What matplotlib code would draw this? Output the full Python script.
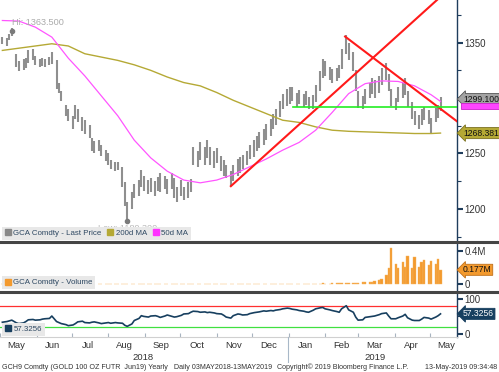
import pandas as pd
import matplotlib.pyplot as plt
import matplotlib.dates as mdates
from matplotlib.lines import Line2D
from matplotlib.patches import Rectangle

# ---- values ----
bar_dates = pd.bdate_range('2018-05-03', periods=134, freq='2B')
price_low = [
    1349, 1347, 1352, 1356, 1328, 1324, 1325, 1327, 1332, 1334,
    1330, 1328, 1329, 1328, 1330, 1331, 1308, 1305, 1297, 1284,
    1279, 1272, 1281, 1278, 1270, 1268, 1264, 1252, 1250, 1252,
    1248, 1243, 1240, 1236, 1234, 1235, 1220, 1203, 1189.3, 1200,
    1210, 1212, 1220, 1216, 1213, 1215, 1212, 1216, 1215, 1218,
    1213, 1218, 1210, 1206, 1212, 1208, 1210, 1215, 1240, 1238,
    1244, 1240, 1246, 1240, 1237, 1241, 1234, 1230, 1228, 1221,
    1225, 1230, 1232, 1236, 1240, 1245, 1247, 1252, 1255, 1258,
    1262, 1266, 1272, 1276, 1283, 1290, 1293, 1295, 1297, 1292,
    1295, 1292, 1294, 1290, 1290, 1296, 1306, 1318, 1320, 1316,
    1314, 1315, 1318, 1326, 1340, 1334, 1324, 1306, 1291, 1290,
    1295, 1300, 1304, 1300, 1305, 1312, 1316, 1306, 1293, 1289,
    1296, 1300, 1303, 1292, 1281, 1276, 1272, 1276, 1280, 1277,
    1268, 1278, 1282, 1288]
price_high = [
    1355, 1354, 1358, 1363.5, 1340, 1333, 1335, 1336, 1343, 1344,
    1338, 1335, 1336, 1335, 1337, 1342, 1334, 1314, 1306, 1294,
    1290, 1284, 1294, 1290, 1283, 1280, 1276, 1264, 1261, 1262,
    1258, 1253, 1250, 1244, 1242, 1242, 1238, 1224, 1206, 1215,
    1222, 1226, 1235, 1230, 1226, 1228, 1225, 1229, 1232, 1230,
    1227, 1232, 1228, 1220, 1226, 1220, 1224, 1227, 1256, 1252,
    1260, 1256, 1262, 1256, 1252, 1255, 1248, 1244, 1240, 1234,
    1240, 1245, 1247, 1249, 1252, 1258, 1262, 1266, 1269, 1272,
    1277, 1281, 1286, 1290, 1297, 1304, 1308, 1310, 1310, 1305,
    1307, 1304, 1306, 1301, 1303, 1312, 1324, 1335, 1333, 1328,
    1326, 1327, 1330, 1344, 1357, 1350, 1342, 1325, 1306, 1302,
    1308, 1314, 1318, 1316, 1320, 1327, 1332, 1322, 1308, 1300,
    1310, 1314, 1318, 1306, 1296, 1288, 1285, 1290, 1292, 1289,
    1282, 1291, 1294, 1301]
last_price = 1299.1
hi_idx, hi_price = 3, 1363.5
low_idx, low_price = 38, 1189.3

ma_dates = pd.to_datetime([
    '2018-05-03', '2018-05-17', '2018-05-31', '2018-06-14', '2018-06-28',
    '2018-07-12', '2018-07-26', '2018-08-09', '2018-08-23', '2018-09-06',
    '2018-09-20', '2018-10-04', '2018-10-18', '2018-11-01', '2018-11-15',
    '2018-11-29', '2018-12-13', '2018-12-27', '2019-01-10', '2019-01-24',
    '2019-02-07', '2019-02-21', '2019-03-07', '2019-03-21', '2019-04-04',
    '2019-04-18', '2019-05-02', '2019-05-10'])
ma200 = [1343, 1345, 1347, 1349, 1347, 1340, 1337, 1334, 1330, 1325,
         1319, 1314, 1311, 1305, 1298, 1292, 1286, 1280, 1278, 1274,
         1271, 1270, 1269.5, 1269, 1268.5, 1268, 1268, 1268.4]
ma50 = [1370, 1369.5, 1364, 1355, 1336, 1320, 1302, 1284, 1262, 1246,
        1234, 1226, 1223.5, 1226, 1231, 1238, 1245, 1253, 1260, 1271,
        1287, 1304, 1313, 1315.5, 1315, 1311, 1303, 1297]
ma200_last = 1268.381

volume = [  # millions of contracts
    0.002, 0.003, 0.002, 0.002, 0.003, 0.002, 0.002, 0.003, 0.002, 0.002,
    0.003, 0.002, 0.002, 0.003, 0.002, 0.003, 0.002, 0.002, 0.003, 0.002,
    0.002, 0.003, 0.002, 0.002, 0.003, 0.002, 0.002, 0.003, 0.002, 0.002,
    0.003, 0.002, 0.002, 0.003, 0.002, 0.003, 0.002, 0.002, 0.003, 0.002,
    0.002, 0.003, 0.002, 0.002, 0.003, 0.002, 0.002, 0.003, 0.002, 0.002,
    0.003, 0.004, 0.003, 0.003, 0.004, 0.003, 0.004, 0.003, 0.004, 0.003,
    0.004, 0.005, 0.004, 0.005, 0.004, 0.005, 0.004, 0.006, 0.004, 0.005,
    0.005, 0.006, 0.005, 0.006, 0.005, 0.006, 0.007, 0.005, 0.006, 0.007,
    0.006, 0.007, 0.006, 0.008, 0.007, 0.006, 0.008, 0.007, 0.008, 0.007,
    0.008, 0.009, 0.008, 0.010, 0.009, 0.008, 0.010, 0.011, 0.009, 0.010,
    0.011, 0.012, 0.014, 0.016, 0.018, 0.015, 0.020, 0.017, 0.019,
    0.030, 0.034, 0.031, 0.033, 0.040, 0.048, 0.060,
    0.110, 0.200, 0.440,
    0.25, 0.20, 0.27, 0.21, 0.34, 0.20, 0.33, 0.21, 0.27, 0.29,
    0.23, 0.28, 0.25, 0.31, 0.177]

rsi = [
    33, 35, 37, 39, 31, 29, 31, 35, 40, 41,
    39, 40, 42, 43, 44, 51, 35, 32, 29, 26,
    23, 25, 29, 34, 36, 32, 31, 33, 34, 31,
    29, 31, 32, 30, 32, 31, 30, 24, 21, 28,
    38, 44, 52, 50, 48, 51, 52, 50, 47, 51,
    54, 50, 48, 49, 53, 57, 58, 62, 65, 64,
    62, 63, 61, 62, 60, 58, 57, 53, 48, 45,
    52, 57, 56, 54, 55, 58, 61, 62, 63, 66,
    65, 67, 66, 68, 70, 72, 74, 73, 71, 69,
    67, 65, 63, 62, 68, 72, 75, 76, 72, 69,
    67, 64, 62, 72, 81, 69, 62, 48, 39, 40,
    47, 49, 50, 51, 55, 58, 60, 51, 43, 43,
    46, 51, 56, 46, 39, 38, 38, 42, 47, 45,
    42, 48, 52, 57.3256]
rsi_upper, rsi_lower = 80, 20

# lines drawn by hand on the chart
up_line_dates = pd.to_datetime(['2018-11-13', '2019-05-07'])
up_line_vals = [1220.5, 1388.5]
down_line_dates = pd.to_datetime(['2019-02-18', '2019-05-24'])
down_line_vals = [1355.5, 1279]
support_dates = pd.to_datetime(['2019-01-05', '2019-05-24'])
support_vals = [1292, 1292]

plt.rcParams['font.family'] = ['Liberation Sans', 'DejaVu Sans']

W, H = 499, 372
navy = '#1f3d5c'
text_col = '#2e4862'
xlim = (pd.Timestamp('2018-05-01'), pd.Timestamp('2019-05-24'))

fig = plt.figure(figsize=(W / 100, H / 100), dpi=100)


def panel(top, bottom):
    return fig.add_axes([0, 1 - bottom / H, 457 / W, (bottom - top) / H])


ax = panel(0, 241)
vax = panel(244, 290)
rax = panel(293, 337)

for a in (ax, vax, rax):
    for s in ('top', 'left', 'bottom'):
        a.spines[s].set_visible(False)
    a.spines['right'].set_color(navy)
    a.spines['right'].set_linewidth(1)
    a.yaxis.tick_right()
    a.tick_params(axis='y', which='major', direction='out', length=4, width=1.5,
                  color=navy, labelsize=7, labelcolor='#333333', pad=1.5)
    a.tick_params(axis='y', which='minor', direction='out', length=3, width=0.8, color=navy)
    a.tick_params(axis='x', which='both', bottom=False, labelbottom=False)
    a.set_xlim(*xlim)


def tag(a, y, text, fc, tc='black', ec=None):
    a.text(1.013, y, text, transform=a.get_yaxis_transform(), ha='left', va='center',
           fontsize=6.2, color=tc, zorder=6, clip_on=False,
           bbox=dict(boxstyle='larrow,pad=0.12', fc=fc, ec=ec or fc, lw=0.6))


def legend(a, items, y0):
    handles = [Line2D([], [], marker='s', ls='', color=c, ms=4.2) for c, _ in items]
    leg = a.legend(handles, [t for _, t in items], loc='lower left', ncol=len(items),
                   fontsize=5.7, frameon=True, facecolor='#e8e8e8', edgecolor='none',
                   framealpha=1, fancybox=False, handletextpad=0.3, columnspacing=0.7,
                   handlelength=0.8, borderpad=0.35, borderaxespad=0,
                   bbox_to_anchor=(0.004, y0), labelcolor=text_col)
    leg.set_zorder(7)


# ---- price panel ----
ax.vlines(bar_dates, price_low, price_high, color='#8f8f8f', lw=1.5, zorder=2)
ax.plot(ma_dates, ma200, color='#b5a935', lw=1, zorder=3)
ax.plot(ma_dates, ma50, color='#ff55ff', lw=0.9, zorder=3)
ax.plot(up_line_dates, up_line_vals, color='#ff1a1a', lw=1.5, zorder=4)
ax.plot(down_line_dates, down_line_vals, color='#ff1a1a', lw=1.5, zorder=4)
ax.plot(support_dates, support_vals, color='#22ee22', lw=1.2, zorder=4)

ax.plot(bar_dates[hi_idx], hi_price - 3, 'o', color='#7a7a7a', ms=3, zorder=4)
ax.text(bar_dates[hi_idx], 1368.5, f'Hi: {hi_price:.3f}', fontsize=6.6, color='#aaaaaa',
        ha='left', va='center')
ax.plot(bar_dates[low_idx], low_price, 'o', color='#7a7a7a', ms=3, zorder=4)
ax.text(bar_dates[low_idx], 1182.5, f'Low: {low_price:.3f}', fontsize=6.6, color='#bbbbbb',
        ha='center', va='center')

ax.set_ylim(1171, 1388.5)
ax.set_yticks([1200, 1250, 1300, 1350])
ax.set_yticklabels(['1200', '1250', '', '1350'])  # 1300 sits under the last-price tag
ax.set_yticks([1175, 1225, 1275, 1325, 1375], minor=True)

# 50d MA value tag peeking out below the last-price tag
fig.add_artist(Rectangle((461 / W, 1 - 109 / H), 38 / W, 6 / H, transform=fig.transFigure,
                         fc='#ff44ff', ec='#cc22cc', lw=0.6, zorder=5))
tag(ax, last_price, f'{last_price:.3f}', '#a3a3a3', tc='#111111', ec='#555555')
tag(ax, ma200_last, f'{ma200_last:.3f}', '#b5a935', tc='#111111', ec='#7a7020')

legend(ax, [('#888888', 'GCA Comdty - Last Price'), ('#b5a935', '200d MA'),
            ('#ff33ff', '50d MA')], 0.005)

# ---- volume panel ----
vax.bar(bar_dates, volume, width=2.0, color='#f39a2e', edgecolor='#f7b560', lw=0.3, zorder=2)
vax.set_ylim(-0.068, 0.49)
vax.set_yticks([0, 0.4])
vax.set_yticklabels(['0', '0.4M'])
vax.set_yticks([0.2], minor=True)
tag(vax, volume[-1], f'{volume[-1]:.3f}M', '#f39a2e', tc='#111111', ec='#c0701a')
legend(vax, [('#f39a2e', 'GCA Comdty - Volume')], 0.02)

# ---- RSI panel ----
rax.axhline(rsi_upper, color='#ff3030', lw=0.9, zorder=2)
rax.axhline(rsi_lower, color='#40e040', lw=0.9, zorder=2)
rax.plot(bar_dates, rsi, color='#173f5f', lw=1.2, zorder=3)
rax.set_ylim(-10, 118)
rax.set_yticks([0, 100])
rax.set_yticks([50], minor=True)
tag(rax, rsi[-1], f'{rsi[-1]:.4f}', '#173f5f', tc='white')
legend(rax, [('#173f5f', f'{rsi[-1]:.4f}')], 0.03)

rax.spines['bottom'].set_visible(True)
rax.spines['bottom'].set_color('#d0d0d0')
rax.spines['bottom'].set_linewidth(0.8)
rax.xaxis.set_major_locator(mdates.MonthLocator(bymonthday=15))
rax.xaxis.set_major_formatter(mdates.DateFormatter('%b'))
rax.xaxis.set_minor_locator(mdates.MonthLocator())
rax.tick_params(axis='x', which='major', bottom=True, labelbottom=True, length=0,
                labelsize=6.8, labelcolor='#333333', pad=3)
rax.tick_params(axis='x', which='minor', bottom=True, direction='in', length=3,
                color='#a8b4c0', width=0.8)

# separators, year labels, footer
for y in (242, 291.5):
    fig.add_artist(Line2D([0, 1], [1 - y / H, 1 - y / H], transform=fig.transFigure,
                          color='#454545', lw=2.2))
fig.add_artist(Line2D([288 / W, 288 / W], [1 - 337 / H, 1 - 362 / H],
                      transform=fig.transFigure, color='#a8b8c8', lw=0.8))
fig.text(143 / W, 1 - 357 / H, '2018', fontsize=6.8, color='#333333', ha='center', va='center')
fig.text(375 / W, 1 - 357 / H, '2019', fontsize=6.8, color='#333333', ha='center', va='center')

fy = 1 - 367.5 / H
fig.text(2 / W, fy, 'GCH9 Comdty (GOLD 100 OZ FUTR  Jun19) Yearly   Daily 03MAY2018-13MAY2019',
         fontsize=5.1, color='#333333', ha='left', va='center')
fig.text(277 / W, fy, 'Copyright\u00a9 2019 Bloomberg Finance L.P.', fontsize=5.1,
         color='#333333', ha='left', va='center')
fig.text(497 / W, fy, '13-May-2019 09:34:48', fontsize=5.1, color='#333333',
         ha='right', va='center')

fig.savefig('out.png', dpi=100)
